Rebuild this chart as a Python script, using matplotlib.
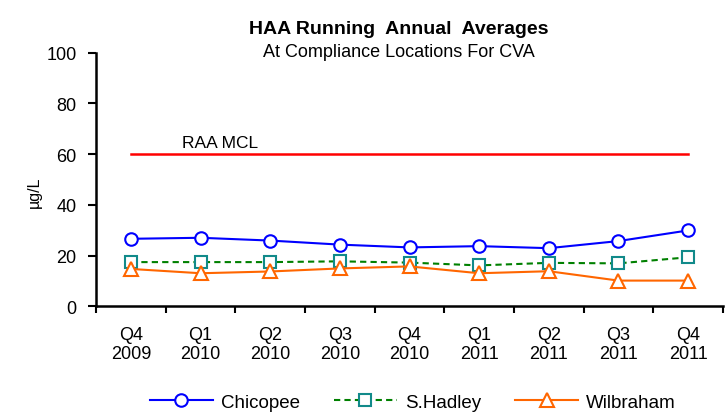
import matplotlib.pyplot as plt
import numpy as np

plt.rcParams['font.family'] = ['Liberation Sans', 'DejaVu Sans']

# data
quarters = ['Q4\n2009', 'Q1\n2010', 'Q2\n2010', 'Q3\n2010', 'Q4\n2010',
            'Q1\n2011', 'Q2\n2011', 'Q3\n2011', 'Q4\n2011']
chicopee = [26.6, 27.0, 25.9, 24.3, 23.2, 23.7, 22.9, 25.7, 29.9]
shadley = [17.4, 17.4, 17.4, 17.7, 17.2, 16.1, 17.1, 16.9, 19.3]
wilbraham = [14.7, 13.0, 13.7, 14.9, 15.7, 13.0, 13.8, 10.1, 10.1]
mcl = 60

x = np.arange(len(quarters))

fig = plt.figure(figsize=(7.28, 4.14), dpi=100)
ax = fig.add_axes([0.132, 0.258, 0.861, 0.612])

ax.plot(x, [mcl] * len(x), color='#ff0000', lw=1.8, zorder=2)
ax.text(0.73, mcl + 1.8, 'RAA MCL', fontsize=12.5, ha='left', va='bottom')

ax.plot(x, chicopee, color='#0000ff', lw=1.5, marker='o', ms=9,
        mfc='white', mec='#0000ff', mew=1.5, label='Chicopee', zorder=3)
ax.plot(x, shadley, color='#008000', lw=1.5, ls=(0, (3, 2)), marker='s', ms=9,
        mfc='white', mec='#118a8a', mew=1.5, label='S.Hadley', zorder=3)
ax.plot(x, wilbraham, color='#ff6600', lw=1.5, marker='^', ms=10,
        mfc='white', mec='#ff6600', mew=1.5, label='Wilbraham', zorder=3)

ax.set_xlim(-0.5, len(x) - 0.5)
ax.set_ylim(0, 100)
ax.set_yticks(range(0, 101, 20))
ax.set_xticks(x)
ax.set_xticklabels(quarters)
ax.set_xticks(np.arange(-0.5, len(x)), minor=True)
ax.tick_params(axis='x', which='major', length=0, pad=14, labelsize=13)
ax.tick_params(axis='x', which='minor', length=5, width=1.5, direction='out')
ax.tick_params(axis='y', length=6, width=1.5, pad=8, labelsize=13)

for s in ['top', 'right']:
    ax.spines[s].set_visible(False)
for s in ['left', 'bottom']:
    ax.spines[s].set_linewidth(1.8)

ax.set_ylabel('µg/L', fontsize=11.5)
ax.yaxis.set_label_coords(-0.086, 0.455)

fig.text(0.548, 0.928, 'HAA Running  Annual  Averages', ha='center', va='center',
         fontsize=14, fontweight='bold')
fig.text(0.548, 0.872, 'At Compliance Locations For CVA', ha='center', va='center',
         fontsize=13)

ax.legend(loc='center', bbox_to_anchor=(0.505, -0.38), ncol=3, frameon=False,
          fontsize=13.5, handlelength=3.4, handletextpad=0.4, columnspacing=1.8)

fig.savefig('out.png', dpi=100)
